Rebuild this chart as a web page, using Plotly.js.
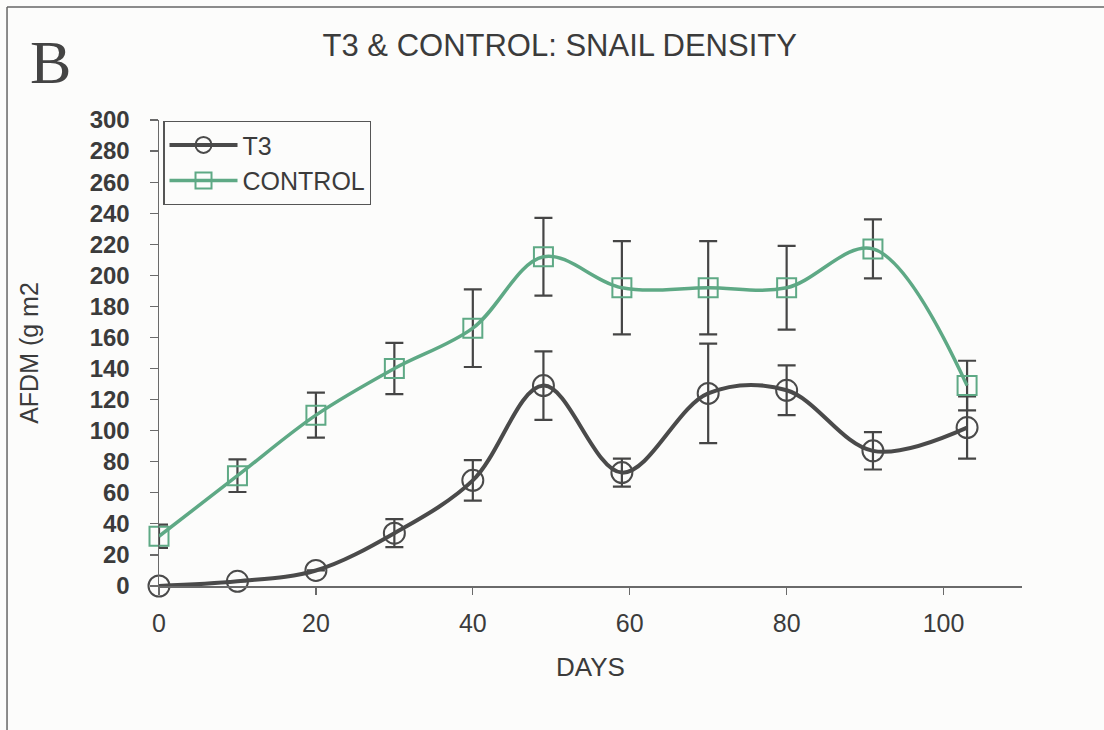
<!DOCTYPE html>
<html>
<head>
<meta charset="utf-8">
<script src="https://cdn.plot.ly/plotly-3.0.1.min.js"></script>
<style>
  html, body { margin: 0; padding: 0; background: #fcfcfb; }
  #chart { width: 1104px; height: 730px; }
</style>
</head>
<body>
<div id="chart"></div>
<script>
// ---- data ----
const days = [0, 10, 20, 30, 40, 49, 59, 70, 80, 91, 103];
const t3Values = [0, 3, 10, 34, 68, 129, 73, 124, 126, 87, 102];
const t3Errors = [0, 0, 0, 9, 13, 22, 9, 32, 16, 12, 20];
const controlValues = [32, 71, 110, 140, 166, 212, 192, 192, 192, 217, 129];
const controlErrors = [7.5, 10.5, 14.5, 16.5, 25, 25, 30, 30, 27, 19, 16];
const seriesNames = ["T3", "CONTROL"];
const yTicks = [0, 20, 40, 60, 80, 100, 120, 140, 160, 180, 200, 220, 240, 260, 280, 300];
const xTicks = [0, 20, 40, 60, 80, 100];

const ink = "#3b3b3b";
const t3Color = "#4a4a4a";
const controlColor = "#5ea985";
const errColor = "#454545";
const fontFamily = "Liberation Sans, Arial, sans-serif";

const traces = [
  {
    x: days, y: t3Values, name: seriesNames[0], type: "scatter", mode: "lines+markers",
    legendgroup: "a", cliponaxis: false,
    line: { color: t3Color, width: 4, shape: "spline", smoothing: 1 },
    marker: { symbol: "circle", size: 21, color: "rgba(0,0,0,0)", line: { color: t3Color, width: 2 } },
    error_y: { type: "data", array: t3Errors, visible: true, color: errColor, thickness: 2.2, width: 9 }
  },
  {
    x: days, y: controlValues, name: seriesNames[1], type: "scatter", mode: "lines+markers",
    legendgroup: "b", cliponaxis: false,
    line: { color: controlColor, width: 3.5, shape: "spline", smoothing: 1 },
    marker: { symbol: "square", size: 19, color: "rgba(0,0,0,0)", line: { color: controlColor, width: 2 } },
    error_y: { type: "data", array: controlErrors, visible: true, color: errColor, thickness: 2.2, width: 9 }
  }
];

const layout = {
  width: 1104, height: 730,
  paper_bgcolor: "#fcfcfb", plot_bgcolor: "rgba(0,0,0,0)",
  margin: { l: 159, r: 82, t: 120, b: 144 },
  font: { family: fontFamily, color: ink },
  title: {
    text: "T3 & CONTROL: SNAIL DENSITY",
    font: { family: fontFamily, size: 31, color: ink },
    xref: "container", yref: "container", x: 0.507, y: 0.938,
    xanchor: "center", yanchor: "middle"
  },
  showlegend: true,
  legend: {
    x: 0.005, y: 0.998, xanchor: "left", yanchor: "top",
    bordercolor: "#555", borderwidth: 1.2, bgcolor: "rgba(255,255,255,0)",
    font: { family: fontFamily, size: 25, color: ink },
    itemwidth: 68, traceorder: "grouped", tracegroupgap: 0
  },
  xaxis: {
    range: [0, 110], tickvals: xTicks, ticktext: xTicks.map(String),
    showgrid: false, zeroline: false, showline: true, linecolor: "#6a6a6a", linewidth: 1.5,
    ticks: "outside", ticklen: 7, tickwidth: 1.2, tickcolor: "#6a6a6a",
    tickfont: { family: fontFamily, size: 25, color: ink },
    ticklabelstandoff: 7,
    title: { text: "DAYS", font: { family: fontFamily, size: 26, color: ink }, standoff: 22 }
  },
  yaxis: {
    range: [0, 300], tickvals: yTicks, ticktext: yTicks.map(String),
    showgrid: false, zeroline: false, showline: true, linecolor: "#6a6a6a", linewidth: 1.5,
    ticks: "outside", ticklen: 8, tickwidth: 1.2, tickcolor: "#6a6a6a",
    tickfont: { family: fontFamily, size: 24, color: ink, weight: "bold" },
    ticklabelstandoff: 15,
    title: { text: "AFDM (g m2", font: { family: fontFamily, size: 25, color: ink }, standoff: 44 }
  },
  annotations: [
    {
      text: "B", xref: "paper", yref: "paper", x: -0.1263, y: 1.1245,
      xanchor: "center", yanchor: "middle", showarrow: false,
      font: { family: "Liberation Serif, Times New Roman, serif", size: 62, color: "#444" }
    }
  ],
  shapes: [
    { type: "line", xref: "paper", yref: "paper", x0: -0.1761, x1: 1.2, y0: 1.2425, y1: 1.2425,
      line: { color: "#666", width: 1.5 } },
    { type: "line", xref: "paper", yref: "paper", x0: -0.1761, x1: -0.1761, y0: 1.2425, y1: -0.4,
      line: { color: "#666", width: 1.5 } }
  ]
};

Plotly.newPlot("chart", traces, layout, { displayModeBar: false, staticPlot: true });
</script>
</body>
</html>
